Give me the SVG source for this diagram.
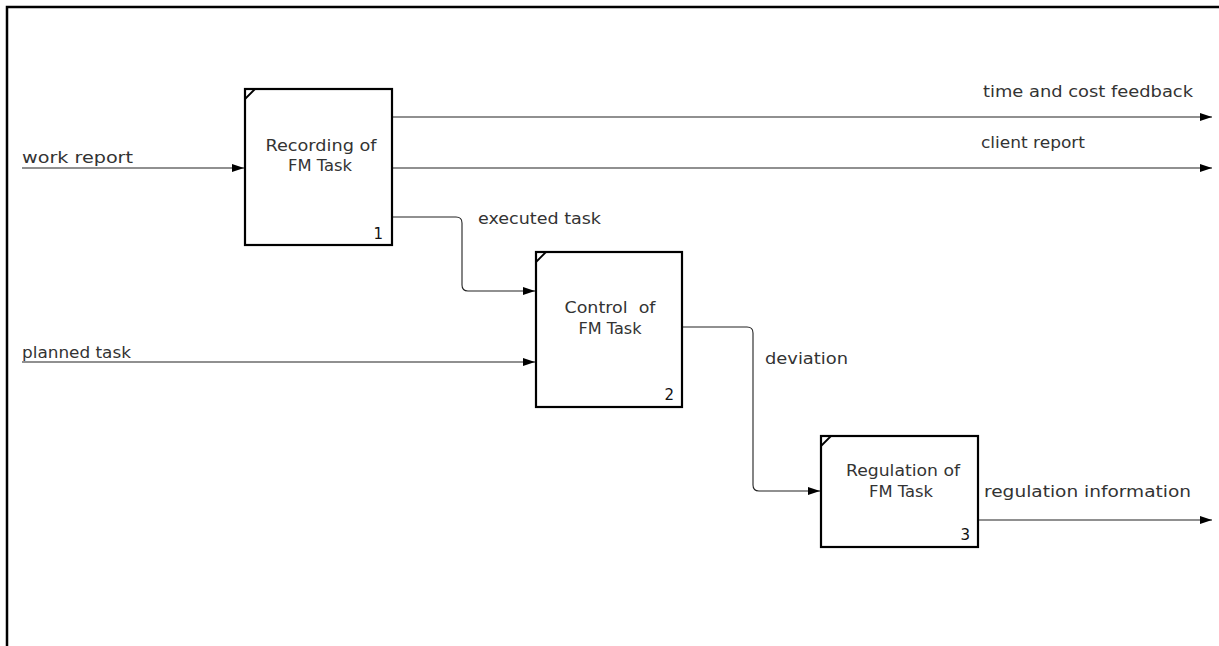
<svg xmlns="http://www.w3.org/2000/svg" width="1219" height="646" viewBox="0 0 1219 646">
  <style>
    text { font-family: "DejaVu Sans", "Liberation Sans", sans-serif; font-size: 16px; fill: #333; }
    .box { fill: #fff; stroke: #000; stroke-width: 2.2; }
    .tick { stroke: #000; stroke-width: 1.8; }
    .num { font-size: 15px; fill: #111; text-anchor: end; }
    .title { text-anchor: middle; white-space: pre; }
    .conn { fill: none; stroke: #222; stroke-width: 1.1; marker-end: url(#arrow); }
  </style>
  <defs>
    <marker id="arrow" markerWidth="12" markerHeight="8" refX="12" refY="4" orient="auto" markerUnits="userSpaceOnUse">
      <path d="M0,0 L12,4 L0,8 Z" fill="#000"/>
    </marker>
  </defs>
  <rect width="1219" height="646" fill="#fff"/>
  <!-- frame -->
  <path d="M7,646 V7 H1219" fill="none" stroke="#000" stroke-width="2.5"/>

  <g id="connectors">
    <path class="conn" d="M392,117 H1212"/>
    <path class="conn" d="M392,168 H1212"/>
    <path class="conn" d="M22,168 H244"/>
    <path class="conn" d="M392,217 H456 Q462,217 462,223 V285 Q462,291 468,291 H535"/>
    <path class="conn" d="M22,362 H535"/>
    <path class="conn" d="M682,327 H747 Q753,327 753,333 V485 Q753,491 759,491 H820"/>
    <path class="conn" d="M978,520 H1212"/>
    <text x="983" y="97" textLength="210" lengthAdjust="spacingAndGlyphs">time and cost feedback</text>
    <text x="981" y="148" textLength="104" lengthAdjust="spacingAndGlyphs">client report</text>
    <text x="22" y="163" textLength="111" lengthAdjust="spacingAndGlyphs">work report</text>
    <text x="478" y="224" textLength="123" lengthAdjust="spacingAndGlyphs">executed task</text>
    <text x="22" y="358" textLength="109" lengthAdjust="spacingAndGlyphs">planned task</text>
    <text x="765" y="364" textLength="83" lengthAdjust="spacingAndGlyphs">deviation</text>
    <text x="984" y="497" textLength="207" lengthAdjust="spacingAndGlyphs">regulation information</text>
  </g>

  <g id="node1">
    <rect class="box" x="245" y="89" width="147" height="156"/>
    <line class="tick" x1="245" y1="99" x2="255" y2="89"/>
    <text class="title" x="321" y="151" textLength="111" lengthAdjust="spacingAndGlyphs">Recording of</text>
    <text class="title" x="320" y="171" textLength="64" lengthAdjust="spacingAndGlyphs">FM Task</text>
    <text class="num" x="383" y="239">1</text>
  </g>

  <g id="node2">
    <rect class="box" x="536" y="252" width="146" height="155"/>
    <line class="tick" x1="536" y1="262" x2="546" y2="252"/>
    <text class="title" x="610" y="313" textLength="91" lengthAdjust="spacingAndGlyphs" xml:space="preserve">Control  of</text>
    <text class="title" x="610" y="334" textLength="63" lengthAdjust="spacingAndGlyphs">FM Task</text>
    <text class="num" x="674" y="400">2</text>
  </g>

  <g id="node3">
    <rect class="box" x="821" y="436" width="157" height="111"/>
    <line class="tick" x1="821" y1="446" x2="831" y2="436"/>
    <text class="title" x="903" y="476" textLength="114" lengthAdjust="spacingAndGlyphs">Regulation of</text>
    <text class="title" x="901" y="497" textLength="64" lengthAdjust="spacingAndGlyphs">FM Task</text>
    <text class="num" x="970" y="540">3</text>
  </g>
</svg>
